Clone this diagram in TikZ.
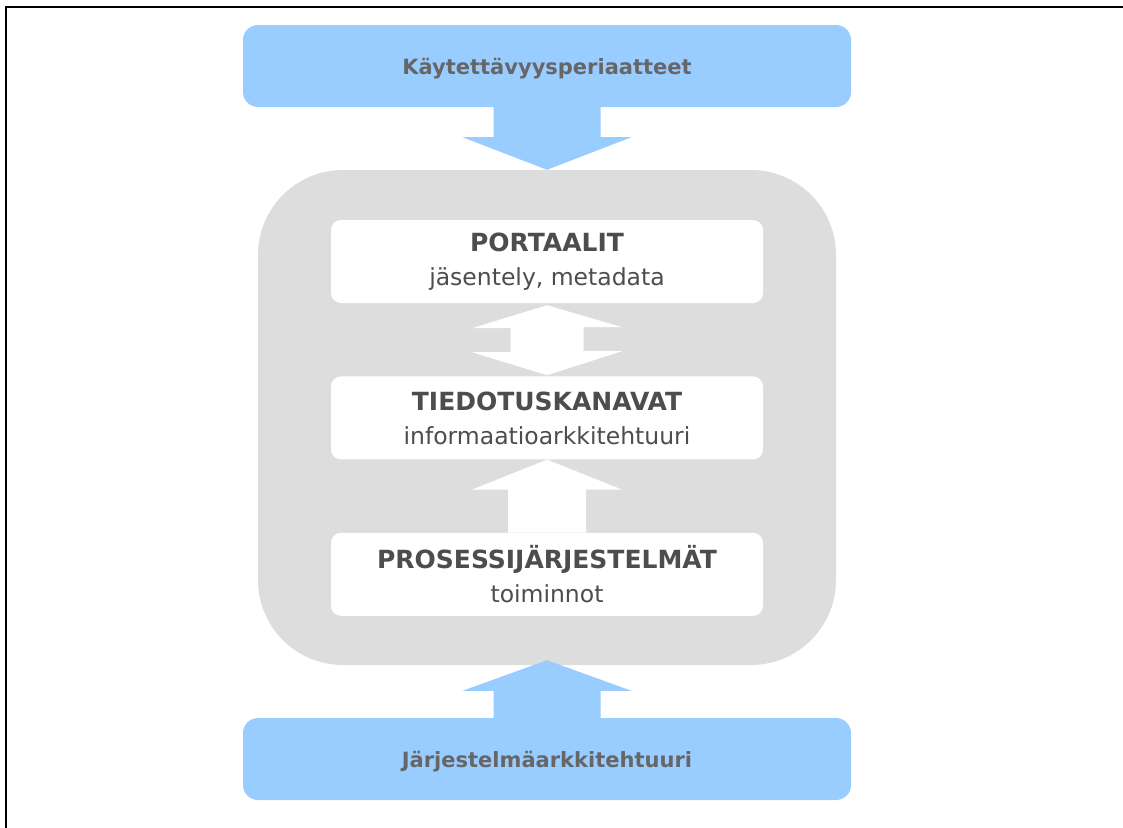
\documentclass[tikz,border=0pt]{standalone}
\usepackage{fontspec}
\setmainfont{DejaVu Sans}
\usetikzlibrary{
  calc,
  positioning
}
\definecolor{lightblue}{HTML}{99CCFF}
\definecolor{panelgrey}{HTML}{DDDDDD}
\definecolor{textgrey}{HTML}{4D4D4D}
\definecolor{labelgrey}{HTML}{666666}
\newcommand\layerhead[1]{{\fontsize{25}{34}\selectfont\bfseries #1}}
\tikzset{
  x = 1pt, y = 1pt,
  node distance = 73pt,
  bluebox/.style = {fill = lightblue, rounded corners = 15pt, minimum width = 608pt,
    minimum height = 82pt, text = labelgrey, text height = 19pt, text depth = 2pt,
    font = \fontsize{21}{25}\selectfont\bfseries},
  layer/.style = {fill = white, rounded corners = 10pt, minimum width = 432pt,
    minimum height = 83pt, text = textgrey, align = center,
    font = \fontsize{23.5}{34}\selectfont},
  panel/.style = {fill = panelgrey, rounded corners = 85pt, minimum width = 578pt,
    minimum height = 495pt},
}

\begin{document}
\begin{tikzpicture}
  \useasboundingbox (0,0) rectangle (1123,-827);
  \draw[line width = 2pt] (6,-828) -- (6,-7) -- (1124,-7);

  \node[panel] (panel) at (547,-417.5) {};
  \node[bluebox] (principles) at (547,-66) {Käytettävyysperiaatteet};
  \node[bluebox] (systems) at (547,-759) {Järjestelmäarkkitehtuuri};

  \node[layer] (portals) at (547,-261.5) {\layerhead{PORTAALIT}\\jäsentely, metadata};
  \node[layer, below=of portals] (channels) {\layerhead{TIEDOTUSKANAVAT}\\informaatioarkkitehtuuri};
  \node[layer, below=of channels] (processes) {\layerhead{PROSESSIJÄRJESTELMÄT}\\toiminnot};

  % blue arrows in and out of the panel
  \fill[lightblue]
      ([xshift=-53.5]principles.south) -- ++(0,-30) -- ++(-31,0) -- (panel.north)
      -- ([xshift=84.5,yshift=-30]principles.south) -- ++(-31,0)
      -- ([xshift=53.5]principles.south) -- cycle;
  \fill[lightblue]
      ([xshift=-53.5]systems.north) -- ++(0,27) -- ++(-31,0) -- ([yshift=5]panel.south)
      -- ([xshift=84.5,yshift=27]systems.north) -- ++(-31,0)
      -- ([xshift=53.5]systems.north) -- cycle;

  % white arrows between the layers
  \fill[white]
      ([yshift=-2]portals.south) -- ++(-75,-23) -- ++(38.5,0) -- ++(0,-24) -- ++(-38.5,0)
      -- ([yshift=1]channels.north) -- ++(75,24) -- ++(-38.5,0) -- ++(0,24) -- ++(38.5,0)
      -- cycle;
  \fill[white]
      (channels.south) -- ++(-75,-30) -- ++(36,0) |- (processes.north)
      -- ++(39,0) -- ++(0,43) -- ++(36,0) -- cycle;
\end{tikzpicture}
\end{document}
